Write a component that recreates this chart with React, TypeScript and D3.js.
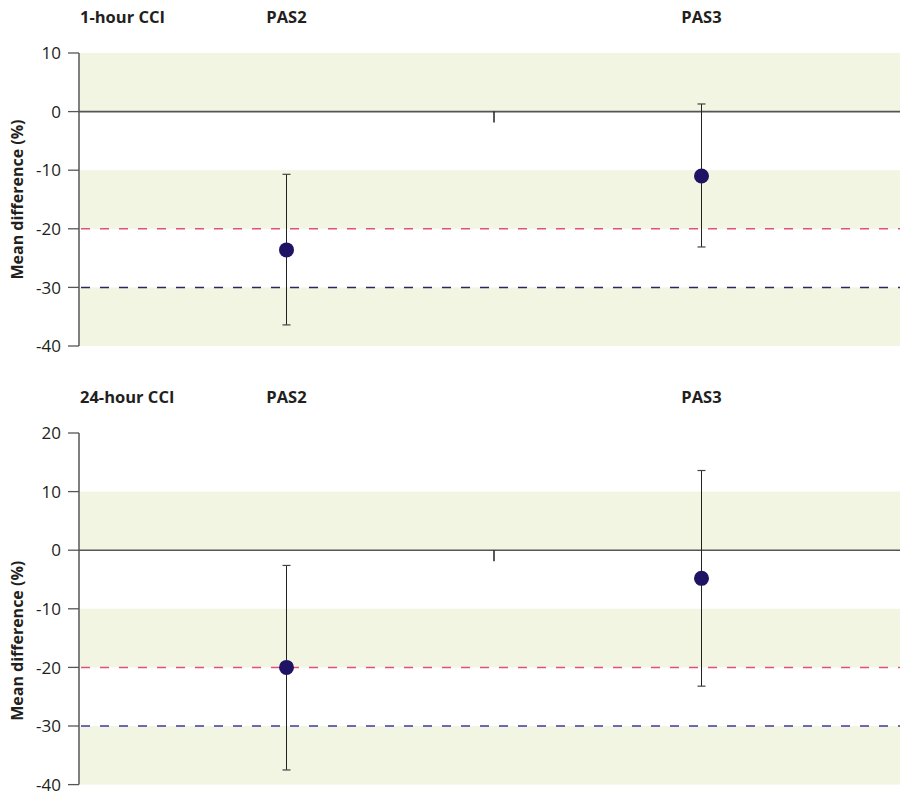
import React from 'react';
import * as d3 from 'd3';

// categories along x
const groups = ['PAS2', 'PAS3'];

// panel titles and y tick values
const panelTitles = ['1-hour CCI', '24-hour CCI'];
const yTicksTop = [10, 0, -10, -20, -30, -40];
const yTicksBottom = [20, 10, 0, -10, -20, -30, -40];

// mean difference (%) and 95% CI per group, per panel
const meanTop = [-23.6, -11.0];
const lowerTop = [-36.4, -23.1];
const upperTop = [-10.7, 1.3];

const meanBottom = [-20.0, -4.8];
const lowerBottom = [-37.5, -23.2];
const upperBottom = [-2.6, 13.6];

// shaded bands [from, to]
const bands = [
  [0, 10],
  [-20, -10],
  [-40, -30],
];

const font = '"Open Sans", sans-serif';
const textColor = '#231f20';

function Panel({ title, ticks, mean, lower, upper, top, lowColor }) {
  const yMax = ticks[0];
  const yMin = ticks[ticks.length - 1];
  const plotTop = top + 53;
  const plotBottom = plotTop + (yMax - yMin) * 5.86;
  const axisX = 79;

  const y = d3.scaleLinear().domain([yMin, yMax]).range([plotBottom, plotTop]);
  const x = d3.scaleBand().domain(groups).range([axisX, 909]).padding(0);
  const cx = (g) => x(g) + x.bandwidth() / 2;

  return (
    <g>
      {/* headers */}
      <text x={80} y={top + 23} fontFamily={font} fontWeight="bold" fontSize={16.5} fill={textColor}>
        {title}
      </text>
      {groups.map((g) => (
        <text key={g} x={cx(g)} y={top + 23} textAnchor="middle" fontFamily={font} fontWeight="bold" fontSize={16.5} fill={textColor}>
          {g}
        </text>
      ))}

      {/* bands */}
      {bands.map((b, i) => (
        <rect key={i} x={axisX + 1} y={y(b[1])} width={900 - axisX} height={y(b[0]) - y(b[1])} fill="#f1f5e2" />
      ))}

      {/* reference lines */}
      <line x1={axisX} x2={900} y1={y(0)} y2={y(0)} stroke="#555" strokeWidth={1.6} />
      <line x1={axisX + 2} x2={900} y1={y(-20)} y2={y(-20)} stroke="#e0507c" strokeWidth={1.5} strokeDasharray="9,10" />
      <line x1={axisX + 2} x2={900} y1={y(-30)} y2={y(-30)} stroke={lowColor} strokeWidth={1.5} strokeDasharray="9,10" />
      <line x1={x('PAS3')} x2={x('PAS3')} y1={y(0)} y2={y(0) + 11} stroke="#222" strokeWidth={1.5} />

      {/* y axis */}
      <line x1={axisX} x2={axisX} y1={plotTop} y2={plotBottom} stroke="#555" strokeWidth={1.5} />
      {ticks.map((t) => (
        <g key={t}>
          <line x1={axisX - 11} x2={axisX} y1={y(t)} y2={y(t)} stroke="#555" strokeWidth={1.3} />
          <text x={61} y={y(t)} dy="0.36em" textAnchor="end" fontFamily={font} fontSize={17} fill={textColor}>
            {t}
          </text>
        </g>
      ))}
      <text
        transform={`translate(23,${(plotTop + plotBottom) / 2 + (top ? 32 : 0)}) rotate(-90)`}
        textAnchor="middle"
        fontFamily={font}
        fontWeight="bold"
        fontSize={16}
        fill={textColor}
      >
        Mean difference (%)
      </text>

      {/* error bars and points */}
      {groups.map((g, i) => (
        <g key={g}>
          <line x1={cx(g)} x2={cx(g)} y1={y(upper[i])} y2={y(lower[i])} stroke="#222" strokeWidth={1} />
          <line x1={cx(g) - 4} x2={cx(g) + 4} y1={y(upper[i])} y2={y(upper[i])} stroke="#444" strokeWidth={1.2} />
          <line x1={cx(g) - 4} x2={cx(g) + 4} y1={y(lower[i])} y2={y(lower[i])} stroke="#444" strokeWidth={1.2} />
          <circle cx={cx(g)} cy={y(mean[i])} r={7.5} fill="#1f1464" />
        </g>
      ))}
    </g>
  );
}

export default function App() {
  return (
    <svg width={900} height={791} style={{ position: 'absolute', left: 0, top: 0 }}>
      <rect width={900} height={791} fill="#fff" />
      <Panel title={panelTitles[0]} ticks={yTicksTop} mean={meanTop} lower={lowerTop} upper={upperTop} top={0} lowColor="#2b2560" />
      <Panel title={panelTitles[1]} ticks={yTicksBottom} mean={meanBottom} lower={lowerBottom} upper={upperBottom} top={380} lowColor="#3e3aa0" />
    </svg>
  );
}
